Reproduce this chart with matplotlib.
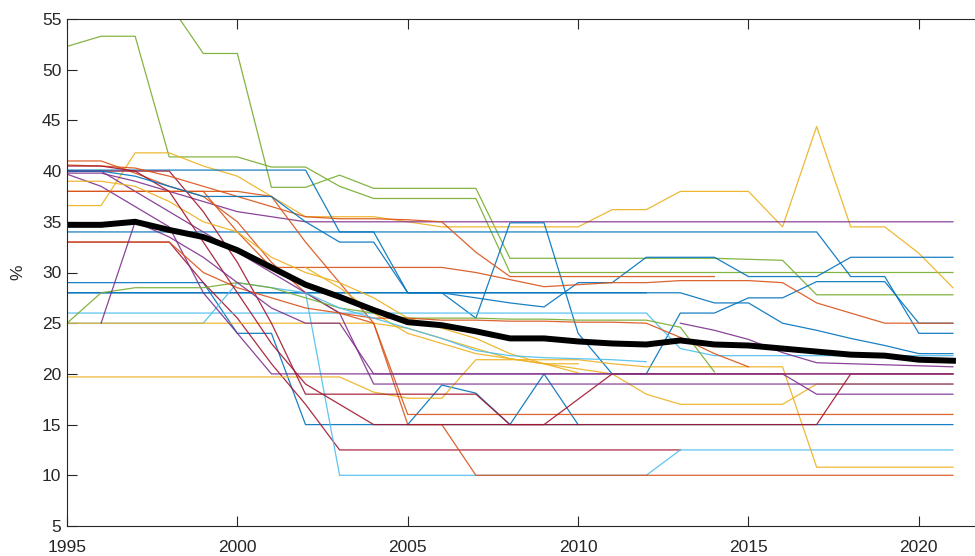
import numpy as np
import matplotlib
matplotlib.use("Agg")
import matplotlib.pyplot as plt

nan = np.nan
years = np.arange(1995, 2022)

# statutory rates per country, 1995..2021
c01 = [52.3, 53.3, 53.3, 41.4, 41.4, 41.4, 40.4, 40.4, 38.5, 37.3, 37.3, 37.3, 37.3, 30.0,
       30.0, 30.0, 30.0, 30.0, 30.0, 30.0, 30.0, 30.0, 30.0, 30.0, 30.0, 30.0, 30.0]
c02 = [nan, nan, nan, 56.5, 51.6, 51.6, 38.4, 38.4, 39.6, 38.3, 38.3, 38.3, 38.3, 31.4,
       31.4, 31.4, 31.4, 31.4, 31.4, 31.4, 31.3, 31.2, 27.8, 27.8, 27.8, 27.8, 27.8]
c03 = [36.6, 36.6, 41.8, 41.8, 40.5, 39.5, 37.5, 35.5, 35.5, 35.5, 35.0, 34.5, 34.5, 34.5,
       34.5, 34.5, 36.2, 36.2, 38.0, 38.0, 38.0, 34.5, 44.4, 34.5, 34.5, 31.9, 28.5]
c04 = [39.8, 39.8, 39.0, 38.0, 37.0, 36.0, 35.5, 35.0, 35.0, 35.0, 35.0, 35.0, 35.0, 35.0,
       35.0, 35.0, 35.0, 35.0, 35.0, 35.0, 35.0, 35.0, 35.0, 35.0, 35.0, 35.0, 35.0]
c05 = [40.1, 40.1, 40.1, 40.1, 40.1, 40.1, 40.1, 40.1, 34.0, 34.0, 34.0, 34.0, 34.0, 34.0,
       34.0, 34.0, 34.0, 34.0, 34.0, 34.0, 34.0, 34.0, 34.0, 29.6, 29.6, 24.0, 24.0]
c06 = [34.0, 34.0, 34.0, 34.0, 34.0, 34.0, 34.0, 34.0, 34.0, 34.0, 28.0, 28.0, 27.5, 27.0,
       26.6, 29.0, 29.0, 31.5, 31.5, 31.5, 29.6, 29.6, 29.6, 31.5, 31.5, 31.5, 31.5]
c07 = [28.0, 28.0, 28.0, 28.0, 28.0, 28.0, 28.0, 28.0, 28.0, 28.0, 28.0, 28.0, 25.5, 34.9,
       34.9, 24.0, 20.0, 20.0, 26.0, 26.0, 27.5, 27.5, 29.1, 29.1, 29.1, 25.0, 25.0]
c08 = [28.0, 28.0, 28.0, 28.0, 28.0, 28.0, 28.0, 28.0, 28.0, 28.0, 28.0, 28.0, 28.0, 28.0,
       28.0, 28.0, 28.0, 28.0, 28.0, 27.0, 27.0, 25.0, 24.3, 23.5, 22.8, 22.0, 22.0]
c09 = [29.0, 29.0, 29.0, 29.0, 29.0, 24.0, 24.0, 15.0, 15.0, 15.0, 15.0, 15.0, 15.0, 15.0,
       15.0, 15.0, 15.0, 15.0, 15.0, 15.0, 15.0, 15.0, 15.0, 15.0, 15.0, 15.0, 15.0]
c10 = [nan, nan, nan, nan, nan, nan, nan, nan, nan, nan, 15.0, 18.9, 18.1, 15.0,
       20.0, 15.0, nan, nan, nan, nan, nan, nan, nan, nan, nan, nan, nan]
c11 = [33.0, 33.0, 33.0, 33.0, 29.0, 25.5, 21.0, 17.0, 12.5, 12.5, 12.5, 12.5, 12.5, 12.5,
       12.5, 12.5, 12.5, 12.5, 12.5, nan, nan, nan, nan, nan, nan, nan, nan]
c12 = [26.0, 26.0, 26.0, 26.0, 26.0, 26.0, 26.0, 26.0, 26.0, 26.0, 26.0, 26.0, 26.0, 26.0,
       26.0, 26.0, 26.0, 26.0, 22.5, 21.8, 21.8, 21.8, 21.8, 21.8, 21.8, 21.8, 21.8]
c13 = [25.0, 25.0, 25.0, 25.0, 25.0, 29.0, 28.5, 28.0, 10.0, 10.0, 10.0, 10.0, 10.0, 10.0,
       10.0, 10.0, 10.0, 10.0, 12.5, 12.5, 12.5, 12.5, 12.5, 12.5, 12.5, 12.5, 12.5]
c14 = [25.0, 25.0, 25.0, 25.0, 25.0, 25.0, 25.0, 25.0, 25.0, 25.0, 24.5, 23.5, 22.5, 21.5,
       21.0, 20.5, 20.0, 18.0, 17.0, 17.0, 17.0, 17.0, 19.0, 19.0, 19.0, 19.0, 19.0]
c15 = [19.7, 19.7, 19.7, 19.7, 19.7, 19.7, 19.7, 19.7, 19.7, 18.2, 17.6, 17.6, 21.4, 21.4,
       21.4, 21.4, 21.0, 20.7, 20.7, 20.7, 20.7, 20.7, 10.8, 10.8, 10.8, 10.8, 10.8]
c16 = [38.0, 38.0, 38.0, 38.0, 38.0, 38.0, 37.5, 33.0, 29.0, 25.0, 16.0, 16.0, 16.0, 16.0,
       16.0, 16.0, 16.0, 16.0, 16.0, 16.0, 16.0, 16.0, 16.0, 16.0, 16.0, 16.0, 16.0]
c17 = [41.0, 41.0, 39.8, 38.5, 37.5, 35.0, 31.0, 28.0, 26.0, 25.0, 15.0, 15.0, 10.0, 10.0,
       10.0, 10.0, 10.0, 10.0, 10.0, 10.0, 10.0, 10.0, 10.0, 10.0, 10.0, 10.0, 10.0]
c18 = [39.7, 38.5, 36.5, 34.5, 28.0, 24.0, 20.0, 20.0, 20.0, 20.0, 20.0, 20.0, 20.0, 20.0,
       20.0, 20.0, 20.0, 20.0, 20.0, 20.0, 20.0, 20.0, 18.0, 18.0, 18.0, 18.0, 18.0]
c19 = [40.0, 40.0, 40.0, 40.0, 36.0, 31.0, 25.0, 18.0, 18.0, 18.0, 18.0, 18.0, 18.0, 15.0,
       15.0, 17.5, 20.0, 20.0, 20.0, 20.0, 20.0, 20.0, 20.0, 20.0, 20.0, 20.0, 20.0]
c20 = [40.0, 40.0, 38.0, 36.0, 34.0, 32.0, 30.0, 28.0, 26.0, 19.0, 19.0, 19.0, 19.0, 19.0,
       19.0, 19.0, 19.0, 19.0, 19.0, 19.0, 19.0, 19.0, 19.0, 19.0, 19.0, 19.0, 19.0]
c21 = [38.0, 38.0, 38.0, 38.0, 38.0, 34.0, 30.5, 30.5, 30.5, 30.5, 30.5, 30.5, 30.0, 29.3,
       28.6, 28.8, 29.0, 29.0, 29.2, 29.2, 29.2, 29.0, 27.0, 26.0, 25.0, 25.0, 25.0]
c22 = [40.6, 40.5, 40.3, 39.5, 38.5, 37.5, 36.5, 35.5, 35.3, 35.3, 35.2, 35.0, 32.0, 29.6,
       29.6, 29.6, 29.6, 29.6, 29.6, 29.6, nan, nan, nan, nan, nan, nan, nan]
c23 = [39.0, 39.0, 38.5, 37.0, 35.0, 34.0, 31.5, 30.0, 29.0, 27.5, 25.5, 24.5, 23.5, 22.0,
       21.0, 20.1, nan, nan, nan, nan, nan, nan, nan, nan, nan, nan, nan]
c24 = [nan, nan, nan, nan, nan, nan, nan, 30.5, 28.5, 26.0, 24.0, 23.0, 22.0, 21.5,
       21.0, 21.0, nan, nan, nan, nan, nan, nan, nan, nan, nan, nan, nan]
c25 = [nan, nan, nan, nan, nan, nan, nan, nan, nan, nan, nan, nan, nan, nan,
       nan, nan, nan, nan, 25.0, 24.3, 23.4, 22.1, 21.1, 21.0, 20.9, 20.8, 20.7]
c26 = [25.0, 28.0, 28.5, 28.5, 28.5, 29.0, 28.5, 27.5, 26.5, 26.0, 25.5, 25.5, 25.5, 25.4,
       25.4, 25.3, 25.3, 25.3, 24.6, 20.2, nan, nan, nan, nan, nan, nan, nan]
c27 = [33.0, 33.0, 33.0, 33.0, 30.0, 28.5, 27.5, 26.5, 26.0, 25.5, 25.5, 25.3, 25.3, 25.2,
       25.2, 25.1, 25.1, 25.0, 23.6, 22.0, 20.7, nan, nan, nan, nan, nan, nan]
c28 = [40.5, 40.5, 40.0, 38.0, 33.0, 28.0, 23.0, 19.0, 17.0, 15.0, 15.0, 15.0, 15.0, 15.0,
       15.0, 15.0, 15.0, 15.0, 15.0, 15.0, 15.0, 15.0, 15.0, 20.0, 20.0, 20.0, 20.0]
c29 = [nan, 25.0, 35.0, 33.5, 31.5, 29.0, 26.5, 25.0, 25.0, 20.0, 20.0, 20.0, 20.0, 20.0,
       20.0, 20.0, 20.0, 20.0, 20.0, 20.0, 20.0, 20.0, 20.0, 20.0, 20.0, 20.0, 20.0]
c30 = [nan, nan, nan, nan, nan, nan, nan, 28.0, 26.5, 25.5, 24.5, 23.5, 22.3, 21.8,
       21.6, 21.5, 21.4, 21.2, nan, nan, nan, nan, nan, nan, nan, nan, nan]
c31 = [40.0, 40.0, 39.5, 38.5, 37.5, 37.5, 37.5, 35.0, 33.0, 33.0, 28.0, 28.0, 28.0, 28.0,
       28.0, 28.0, 28.0, 28.0, nan, nan, nan, nan, nan, nan, nan, nan, nan]

# unweighted average (thick black line)
average = [34.7, 34.7, 35.0, 34.2, 33.5, 32.2, 30.5, 28.8, 27.6, 26.3, 25.1, 24.8, 24.2, 23.5,
           23.5, 23.2, 23.0, 22.9, 23.3, 22.9, 22.8, 22.5, 22.2, 21.9, 21.8, 21.4, 21.3]

countries = [c01, c02, c03, c04, c05, c06, c07, c08, c09, c10, c11, c12, c13, c14, c15, c16,
             c17, c18, c19, c20, c21, c22, c23, c24, c25, c26, c27, c28, c29, c30, c31]

# matlab default colour order
mb = (0.000, 0.447, 0.741)
mo = (0.850, 0.325, 0.098)
my = (0.929, 0.694, 0.125)
mp = (0.494, 0.184, 0.556)
mg = (0.466, 0.674, 0.188)
mc = (0.301, 0.745, 0.933)
mr = (0.635, 0.078, 0.184)
line_colors = [mg, mg, my, mp, mb, mb, mb, mb, mb, mb, mr, mc, mc, my, my, mo,
               mo, mp, mr, mp, mo, mo, my, my, mp, mg, mo, mr, mp, mc, mb]

plt.rcParams['font.family'] = ['Liberation Sans', 'DejaVu Sans']

fig = plt.figure(figsize=(9.75, 5.56), dpi=100)
ax = fig.add_axes([67 / 975, 1 - 526 / 556, 920 / 975, 507 / 556])

for vals, col in zip(countries, line_colors):
    ax.plot(years, vals, color=col, lw=0.9, alpha=0.9)
ax.plot(years, average, color="black", lw=4.3, solid_joinstyle="round")

ax.set_xlim(1995, 2022)
ax.set_ylim(5, 55)
ax.set_xticks([1995, 2000, 2005, 2010, 2015, 2020])
ax.set_yticks(np.arange(5, 56, 5))
ax.tick_params(direction="in", length=7, width=0.8, colors="#262626", labelsize=12.5,
               top=True, right=True)
ax.tick_params(axis="x", pad=10)
ax.tick_params(axis="y", pad=4)
for s in ax.spines.values():
    s.set_color("#262626")
    s.set_linewidth(0.8)
ax.set_ylabel("%", fontsize=12.5, color="#262626", labelpad=12)

fig.savefig("out.png", dpi=100)
